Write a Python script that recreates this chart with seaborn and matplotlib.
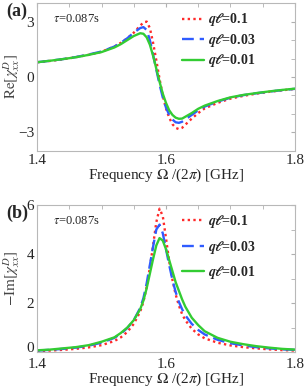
import matplotlib
matplotlib.use('Agg')
import matplotlib.pyplot as plt
from matplotlib.ticker import MultipleLocator
import seaborn as sns
import pandas as pd

# frequency grid (GHz)
freq = [1.40, 1.42, 1.44, 1.46, 1.48, 1.50, 1.52, 1.53, 1.54, 1.55, 1.56, 1.565,
        1.57, 1.575, 1.58, 1.585, 1.59, 1.595, 1.60, 1.605, 1.61, 1.615, 1.62,
        1.625, 1.63, 1.64, 1.65, 1.66, 1.68, 1.70, 1.72, 1.74, 1.76, 1.78, 1.80]

labels = [r'$\boldsymbol{q\ell}$=0.1', r'$\boldsymbol{q\ell}$=0.03', r'$\boldsymbol{q\ell}$=0.01']

# (a) Re[chi]
re_01 = [0.8, 0.87, 0.96, 1.07, 1.2, 1.37, 1.65, 1.85, 2.1, 2.4, 2.78, 2.95, 3.0, 2.65,
         1.85, 0.9, -0.1, -1.0, -1.7, -2.2, -2.55, -2.75, -2.82, -2.75, -2.58, -2.25,
         -1.95, -1.7, -1.4, -1.17, -1.02, -0.9, -0.8, -0.72, -0.64]
re_003 = [0.8, 0.88, 0.97, 1.08, 1.22, 1.38, 1.65, 1.85, 2.1, 2.4, 2.65, 2.7, 2.55, 2.0,
          1.2, 0.4, -0.4, -1.1, -1.65, -2.05, -2.3, -2.45, -2.48, -2.42, -2.3, -2.05,
          -1.8, -1.6, -1.33, -1.12, -0.98, -0.88, -0.79, -0.71, -0.64]
re_001 = [0.8, 0.88, 0.97, 1.07, 1.2, 1.35, 1.6, 1.78, 2.0, 2.22, 2.37, 2.34, 2.15, 1.75,
          1.15, 0.45, -0.25, -0.9, -1.4, -1.8, -2.05, -2.2, -2.26, -2.25, -2.15, -1.95,
          -1.72, -1.55, -1.3, -1.1, -0.97, -0.87, -0.78, -0.7, -0.63]

# (b) -Im[chi]
im_01 = [0.04, 0.06, 0.09, 0.13, 0.19, 0.28, 0.45, 0.6, 0.82, 1.15, 1.65, 2.05, 2.65,
         3.45, 4.35, 5.3, 5.85, 5.55, 4.65, 3.7, 2.95, 2.35, 1.9, 1.55, 1.3, 0.95, 0.72,
         0.56, 0.38, 0.27, 0.2, 0.15, 0.11, 0.08, 0.06]
im_003 = [0.06, 0.09, 0.13, 0.18, 0.26, 0.38, 0.58, 0.75, 0.98, 1.3, 1.8, 2.2, 2.8,
          3.55, 4.3, 5.0, 5.2, 4.85, 4.2, 3.55, 2.95, 2.45, 2.05, 1.75, 1.5, 1.15, 0.9,
          0.72, 0.5, 0.36, 0.27, 0.2, 0.15, 0.11, 0.09]
im_001 = [0.07, 0.1, 0.15, 0.2, 0.28, 0.42, 0.6, 0.78, 1.0, 1.3, 1.75, 2.1, 2.6, 3.2,
          3.8, 4.35, 4.65, 4.55, 4.2, 3.75, 3.3, 2.85, 2.5, 2.15, 1.85, 1.4, 1.1, 0.85,
          0.58, 0.42, 0.32, 0.24, 0.18, 0.13, 0.1]

colors = ['#ff2a2a', '#2f5cff', '#33cc33']
styles = [(0, (1, 1.4)), (0, (5, 2.5)), '-']

sns.set_style('white')
plt.rcParams['font.family'] = ['Liberation Serif', 'DejaVu Serif']
plt.rcParams['mathtext.fontset'] = 'stix'

fig = plt.figure(figsize=(3.04, 3.89), dpi=100)
ax_a = fig.add_axes([0.122, 0.612, 0.848, 0.380])
ax_b = fig.add_axes([0.122, 0.095, 0.848, 0.378])

def draw(ax, series, ylim, yticks, ylabel, tag, spacing, xpad, xlpad):
    for vals, lab, col, ls in zip(series, labels, colors, styles):
        df = pd.DataFrame({'f': freq, 'v': vals})
        sns.lineplot(data=df, x='f', y='v', ax=ax, color=col, label=lab, lw=1.7)
        ax.lines[-1].set_linestyle(ls)
    ax.set_xlim(1.4, 1.8)
    ax.set_ylim(*ylim)
    ax.set_xticks([1.4, 1.6, 1.8])
    ax.xaxis.set_minor_locator(MultipleLocator(0.05))
    ax.set_yticks(yticks)
    ax.yaxis.set_minor_locator(MultipleLocator(1))
    ax.tick_params(which='both', direction='in', top=True, right=True,
                   color='#b0b0b0', labelsize=11, pad=2, length=3)
    ax.tick_params(axis='x', pad=xpad)
    for s in ax.spines.values():
        s.set_color('#b8b8b8')
        s.set_linewidth(0.8)
    ax.set_xlabel(r'Frequency $\Omega$ /(2$\pi$) [GHz]', fontsize=11, labelpad=xlpad)
    ax.set_ylabel(ylabel, fontsize=11, color='#444444')
    ax.yaxis.set_label_coords(-0.058, 0.5)
    ax.text(0.06, 0.93, r'$\tau$=0.087s', transform=ax.transAxes, fontsize=9,
            va='top', ha='left')
    ax.text(-0.12, 1.0, tag, transform=ax.transAxes, fontsize=13,
            fontweight='bold', va='top', ha='left')
    leg = ax.legend(loc='upper right', bbox_to_anchor=(0.88, 1.0), frameon=False,
                    fontsize=10, handlelength=1.6, handletextpad=0.3,
                    labelspacing=spacing, borderaxespad=0.2)
    for t in leg.get_texts():
        t.set_fontweight('bold')

draw(ax_a, [re_01, re_003, re_001], (-4, 4), [-3, 0, 3], r'$\mathrm{Re}[\chi^{D}_{xx}]$', '(a)', 0.25, 2, 0)
draw(ax_b, [im_01, im_003, im_001], (0, 6), [0, 2, 4, 6], r'$-\mathrm{Im}[\chi^{D}_{xx}]$', '(b)', 0.6, 4.5, -0.5)

# the "0" of panel (b) sits on the axis corner, lift it off the 1.4 label
ax_b.yaxis.get_major_ticks()[0].label1.set_va('baseline')

fig.savefig('out.png', dpi=100)
